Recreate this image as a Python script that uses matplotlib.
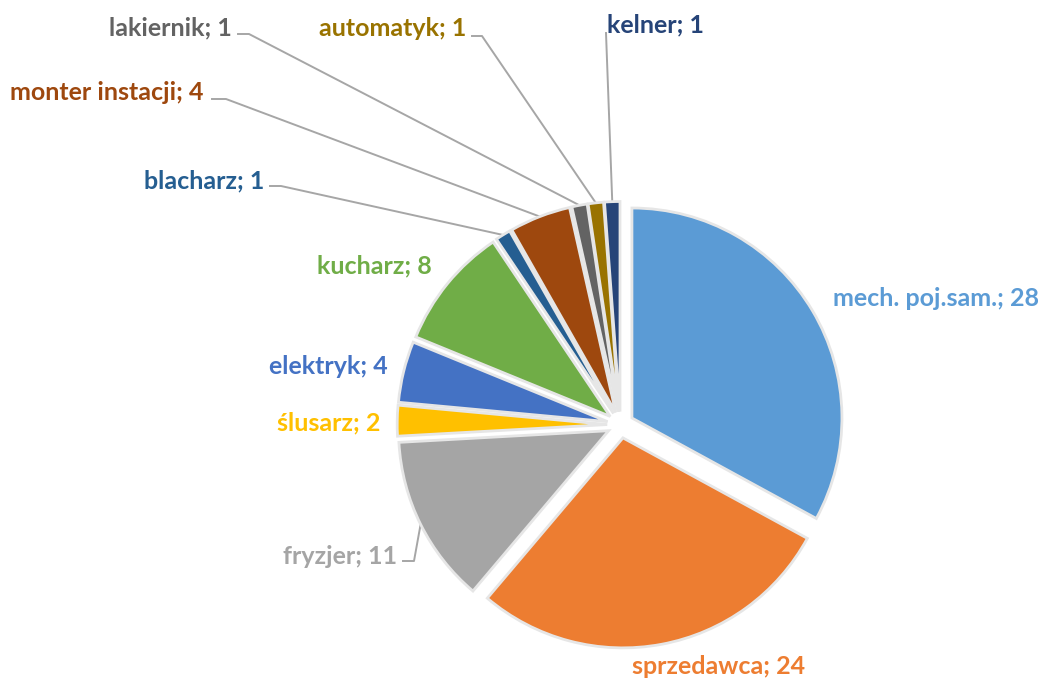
import numpy as np
import matplotlib
matplotlib.use("Agg")
import matplotlib.pyplot as plt

categories = ["mech. poj.sam.", "sprzedawca", "fryzjer", "ślusarz", "elektryk",
              "kucharz", "blacharz", "monter instacji", "lakiernik", "automatyk", "kelner"]
counts = [28, 24, 11, 2, 4, 8, 1, 4, 1, 1, 1]
colors = ["#5B9BD5", "#ED7D31", "#A5A5A5", "#FFC000", "#4472C4", "#70AD47",
          "#255E91", "#9E480E", "#636363", "#997300", "#264478"]

W, H = 1042, 682
# pie geometry in pixel units (y measured from top)
CX, CY, R, EXPL = 620.5, 424.8, 210, 13.3

# label anchors (x, y from top, alignment)
label_pos = [
    (833, 298, "left"),
    (632, 667, "left"),
    (397, 557, "right"),
    (380, 423, "right"),
    (388, 367, "right"),
    (432, 266, "right"),
    (264, 181, "right"),
    (204, 92, "right"),
    (232, 28, "right"),
    (466, 28, "right"),
    (607, 25, "left"),
]
# leader line points near labels, slice end is added from the wedge
leaders = {
    2: [(403, 561), (414, 561)],
    6: [(270, 186), (281, 186)],
    7: [(212, 99), (226, 99)],
    8: [(238, 34), (249, 34)],
    9: [(472, 36), (482, 36)],
    10: [(606, 33)],
}

fig = plt.figure(figsize=(W / 100, H / 100), dpi=100)
ax = fig.add_axes([0, 0, 1, 1])

wedges, _ = ax.pie(counts, colors=colors, startangle=90, counterclock=False,
                   center=(CX, H - CY), radius=R, explode=[EXPL] * len(counts),
                   wedgeprops=dict(edgecolor="#E6E6E6", linewidth=2))

ax.set_xlim(0, W)
ax.set_ylim(0, H)
ax.set_aspect("equal")
ax.axis("off")

for i, (cat, val, col) in enumerate(zip(categories, counts, colors)):
    x, y, ha = label_pos[i]
    ax.text(x, H - y, f"{cat}; {val}", color=col, ha=ha, va="center",
            fontsize=18, fontweight="bold", family=["Lato", "DejaVu Sans"])
    if i in leaders:
        w = wedges[i]
        mid = np.deg2rad((w.theta1 + w.theta2) / 2)
        ex = w.center[0] + w.r * np.cos(mid)
        ey = w.center[1] + w.r * np.sin(mid)
        pts = [(px, H - py) for px, py in leaders[i]] + [(ex, ey)]
        xs, ys = zip(*pts)
        ax.plot(xs, ys, color="#A6A6A6", lw=1.4, zorder=0.5)

fig.savefig("out.png", dpi=100)
